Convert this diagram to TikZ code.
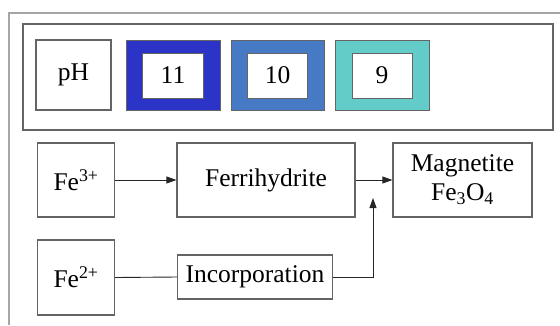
\documentclass[tikz,border=0pt]{standalone}
\usepackage{fontspec}
\setmainfont{Liberation Serif}
\usetikzlibrary{arrows.meta}
\definecolor{ph11}{RGB}{44,52,200}
\definecolor{ph10}{RGB}{70,122,196}
\definecolor{ph9}{RGB}{100,204,200}
\definecolor{boxline}{RGB}{100,100,100}
\tikzset{
  stepbox/.style={draw=boxline, line width=1.1pt, inner sep=0pt, align=center, font=\fontsize{25.5}{29}\selectfont},
  colbox/.style={draw=boxline, line width=0.8pt, inner sep=0pt, minimum width=#1, minimum height=70pt},
  numbox/.style={draw=boxline, line width=0.8pt, fill=white, inner sep=0pt, minimum height=45pt, font=\fontsize{25.5}{29}\selectfont},
  flow/.style={line width=0.9pt, draw=black!85},
  tip/.style={-{Triangle[length=10pt,width=7pt]}}
}
\begin{document}
\begin{tikzpicture}[x=1pt,y=-1pt]
\useasboundingbox (0,0) rectangle (560,325);
% outer frame
\draw[line width=1.4pt, draw=black!35] (9,325) -- (9,13) -- (560,13);
% pH panel
\draw[line width=1.1pt, draw=boxline] (23,24) rectangle (553,130);
\node[stepbox, minimum width=75pt, minimum height=70pt] (ph) at (73.5,75) {pH};
\node[colbox=94pt, fill=ph11] (c11) at (173,75.5) {};
\node[numbox, minimum width=61pt] (n11) at (c11.center) {11};
\node[colbox=93pt, fill=ph10] (c10) at (277.5,75.5) {};
\node[numbox, minimum width=60pt] (n10) at (c10.center) {10};
\node[colbox=94pt, fill=ph9] (c9) at (382,75.5) {};
\node[numbox, minimum width=60pt] (n9) at (c9.center) {9};
% flow
\node[stepbox, minimum width=77pt, minimum height=74pt] (fe3) at (76,180) {Fe\textsuperscript{3+}};
\node[stepbox, minimum width=178pt, minimum height=74pt] (ferri) at (266,180) {Ferrihydrite};
\node[stepbox, minimum width=139pt, minimum height=74pt] (mag) at (462.5,180) {Magnetite\\Fe\textsubscript{3}O\textsubscript{4}};
\node[stepbox, minimum width=77pt, minimum height=75pt] (fe2) at (76,277.5) {Fe\textsuperscript{2+}};
\node[stepbox, minimum width=155pt, minimum height=44pt] (inc) at (255,277) {Incorporation};
\coordinate (up) at (373,198);
\draw[flow, tip] (fe3.east) -- (ferri.west);
\draw[flow, tip] (ferri.east) -- (mag.west);
\draw[flow] (fe2.east) -- (inc.west);
\draw[flow, tip] (inc.east) -| (up);
\end{tikzpicture}
\end{document}
